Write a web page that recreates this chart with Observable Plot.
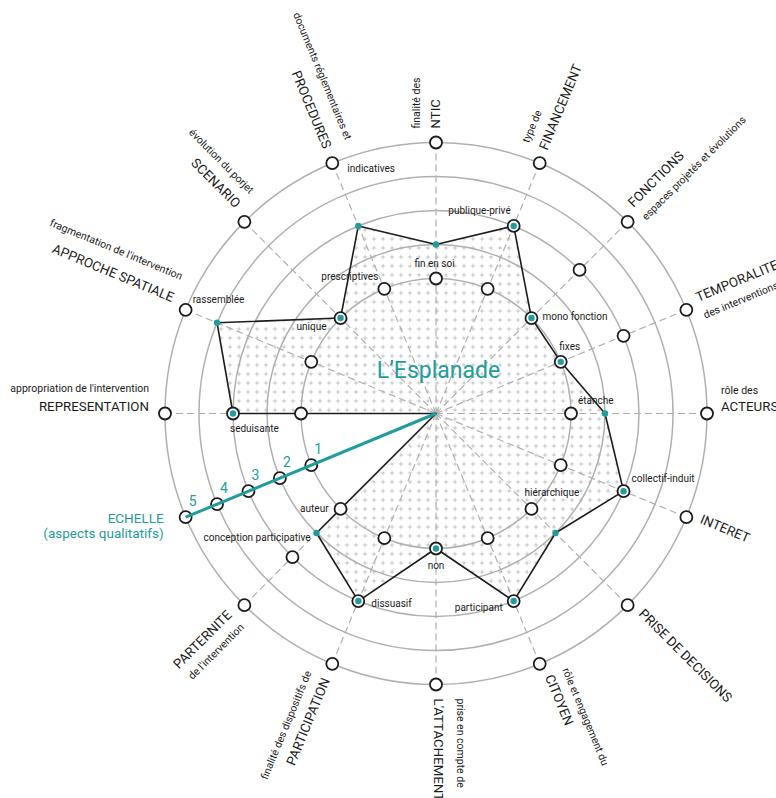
<!DOCTYPE html>
<html>
<head>
<meta charset="utf-8">
<script src="https://cdn.jsdelivr.net/npm/d3@7"></script>
<script src="https://cdn.jsdelivr.net/npm/@observablehq/plot@0.6"></script>
<style>
html, body { margin: 0; padding: 0; background: #fff; overflow: hidden; }
#chart svg { display: block; }
</style>
</head>
<body>
<div id="chart"></div>
<script>
// ---------- DATA ----------
const axisNames = ["NTIC", "FINANCEMENT", "FONCTIONS", "TEMPORALITE", "ACTEURS", "INTERET",
  "PRISE DE DECISIONS", "CITOYEN", "L'ATTACHEMENT", "PARTICIPATION", "PARTERNITE", "ECHELLE",
  "REPRESENTATION", "APPROCHE SPATIALE", "SCENARIO", "PROCEDURES"];
const axisSubtitles = ["finalité des", "type de", "espaces projetés et évolutions", "des interventions",
  "rôle des", "", "", "rôle et engagement du", "prise en compte de", "finalité des dispositifs de",
  "de l'intervention", "(aspects qualitatifs)", "appropriation de l'intervention",
  "fragmentation de l'intervention", "évolution du porjet", "documents réglementaires et"];
const title = "L’Esplanade";
// value of L'Esplanade on each axis (0 = centre)
const esplanadeValues = [2, 3, 1, 1, 2, 3, 2, 3, 1, 3, 2, 0, 3, 4, 1, 3];
const ringLevels = [1, 2, 3, 4, 5];
const echelleTicks = ["1", "2", "3", "4", "5"];
// option markers (levels) on each axis
const optionLevels = [[1, 5], [1, 3, 5], [1, 3, 5], [1, 3, 5], [1, 5], [1, 3, 5], [1, 5], [1, 3, 5],
  [1, 5], [1, 3, 5], [1, 3, 5], [1, 2, 3, 4, 5], [1, 3, 5], [1, 5], [1, 5], [1, 5]];
// option labels: axis index, level, text
const optionAxis  = [15, 15, 0, 1, 2, 3, 4, 5, 6, 7, 8, 9, 10, 10, 12, 13, 14];
const optionLevel = [5, 1, 1, 3, 1, 1, 1, 3, 1, 3, 1, 3, 2, 1, 3, 5, 1];
const optionText  = ["indicatives", "prescriptives", "fin en soi", "publique-privé", "mono fonction",
  "fixes", "étanche", "collectif-induit", "hiérarchique", "participant", "non", "dissuasif",
  "conception participative", "auteur", "seduisante", "rassemblée", "unique"];

// ---------- LAYOUT ----------
const W = 776, H = 798, CX = 435.5, CY = 413;
const TEAL = "#1f9c9b", INK = "#1c1c1c", GRID = "#b0b0b0";
const FONT = "Roboto, 'DejaVu Sans', sans-serif";
const rScale = d3.scaleLinear().domain([0, 1, 5]).range([0, 135, 271]);
const deg = i => i * 360 / axisNames.length;
function pt(i, v) {
  const a = deg(i) * Math.PI / 180, r = rScale(v);
  return [r * Math.sin(a), -r * Math.cos(a)];
}
// option label offsets [dx, dy, anchor]
const optLayout = [[15, 6, "start"], [-6, -12, "end"], [-1.5, -15, "middle"], [-3, -15, "end"],
  [11, -1, "start"], [9, -15, "middle"], [7, -13, "start"], [8, -12, "start"], [-7, -16, "start"],
  [-11, 7, "end"], [0, 17, "middle"], [13, 3, "start"], [-6, 5, "end"], [-12, 0, "end"],
  [-3, 15, "start"], [7, -10, "start"], [-14, 9, "end"]];
// axis label perpendicular offsets [big, small]
const axLayout = [[0, 19], [2, 21], [10, -9], [7, -12], [6.5, 23], [4, 0], [5, 0], [4, 22], [2, 24.5],
  [0, 19], [5, -13], null, [6.5, 25], [6, 29], [7, 26.5], [1, 24]];

// ---------- DERIVED ----------
const poly = esplanadeValues.map((v, i) => { const [x, y] = pt(i, v); return {x, y, v}; });
const spokes = axisNames.map((n, i) => { const [x, y] = pt(i, 5); return {x, y}; });
const circles = optionLevels.flatMap((lv, i) => lv.map(v => { const [x, y] = pt(i, v); return {x, y}; }));
const optLabels = optionText.map((t, k) => {
  const [x, y] = pt(optionAxis[k], optionLevel[k]);
  const [dx, dy, anchor] = optLayout[k];
  return {x: x + dx, y: y + dy, t, anchor};
});
const bigLabels = [], smallLabels = [];
axisNames.forEach((name, i) => {
  const lay = axLayout[i];
  if (!lay) return;
  const th = deg(i), right = th <= 180;
  const rot = right ? th - 90 : th - 270;
  const R = right ? 285 : 287;
  const a = th * Math.PI / 180, ra = rot * Math.PI / 180;
  const ux = Math.sin(a), uy = -Math.cos(a), px = Math.sin(ra), py = -Math.cos(ra);
  const anchor = right ? "start" : "end";
  bigLabels.push({x: R * ux + lay[0] * px, y: R * uy + lay[0] * py, t: name, rot, anchor});
  if (axisSubtitles[i]) smallLabels.push({x: R * ux + lay[1] * px, y: R * uy + lay[1] * py, t: axisSubtitles[i], rot, anchor});
});
const ECH = 11;
const echEnd = pt(ECH, 5);
const echTicks = echelleTicks.map((t, k) => { const [x, y] = pt(ECH, k + 1); return {x: x + 7, y: y - 16, t}; });

const textMarks = (data, size, extra = {}) => ["start", "middle", "end"].map(anchor =>
  Plot.text(data.filter(d => d.anchor === anchor), {x: "x", y: "y", text: "t", textAnchor: anchor,
    lineAnchor: "middle", fontSize: size, fill: INK, ...(data[0] && data[0].rot !== undefined ? {rotate: "rot"} : {}), ...extra}));

const svg = Plot.plot({
  width: W, height: H, margin: 0,
  x: {domain: [-CX, W - CX], range: [0, W], axis: null},
  y: {domain: [-CY, H - CY], range: [0, H], axis: null},
  r: {type: "identity"},
  style: {fontFamily: FONT, background: "#fff", overflow: "hidden"},
  marks: [
    Plot.line(poly, {x: "x", y: "y", curve: "linear-closed", fill: "url(#dots)", stroke: "none"}),
    Plot.dot(ringLevels, {x: 0, y: 0, r: v => rScale(v), stroke: GRID, strokeWidth: 1.5, fill: "none"}),
    Plot.link(spokes, {x1: 0, y1: 0, x2: "x", y2: "y", stroke: GRID, strokeWidth: 1.2, strokeDasharray: "7,4"}),
    Plot.line(poly, {x: "x", y: "y", curve: "linear-closed", stroke: INK, strokeWidth: 1.6, fill: "none"}),
    Plot.dot(circles, {x: "x", y: "y", r: 6, stroke: INK, strokeWidth: 1.8, fill: "white"}),
    Plot.link([{x: echEnd[0], y: echEnd[1]}], {x1: 0, y1: 0, x2: "x", y2: "y", stroke: TEAL, strokeWidth: 3}),
    Plot.dot(poly.filter(d => d.v > 0), {x: "x", y: "y", r: 3.2, fill: TEAL}),
    ...textMarks(optLabels, 10),
    ...textMarks(bigLabels, 13.3),
    ...textMarks(smallLabels, 10.5),
    Plot.text(echTicks, {x: "x", y: "y", text: "t", fill: TEAL, fontSize: 14, lineAnchor: "middle"}),
    Plot.text([axisNames[ECH], axisSubtitles[ECH]], {x: echEnd[0] - 22, y: (d, k) => echEnd[1] + (k ? 16 : 1.5),
      text: d => d, textAnchor: "end", lineAnchor: "middle", fill: TEAL, fontSize: 13.5}),
    Plot.text([title], {x: 2.5, y: -43, text: d => d, fill: TEAL, fontSize: 23, lineAnchor: "middle"})
  ]
});
const defs = d3.select(svg).insert("defs", ":first-child");
const pat = defs.append("pattern").attr("id", "dots").attr("width", 9).attr("height", 9)
  .attr("patternUnits", "userSpaceOnUse");
pat.append("path").attr("d", "M2.5 4.5h4M4.5 2.5v4").attr("stroke", "#c0c0c0").attr("stroke-width", 1);
document.getElementById("chart").appendChild(svg);
</script>
</body>
</html>
